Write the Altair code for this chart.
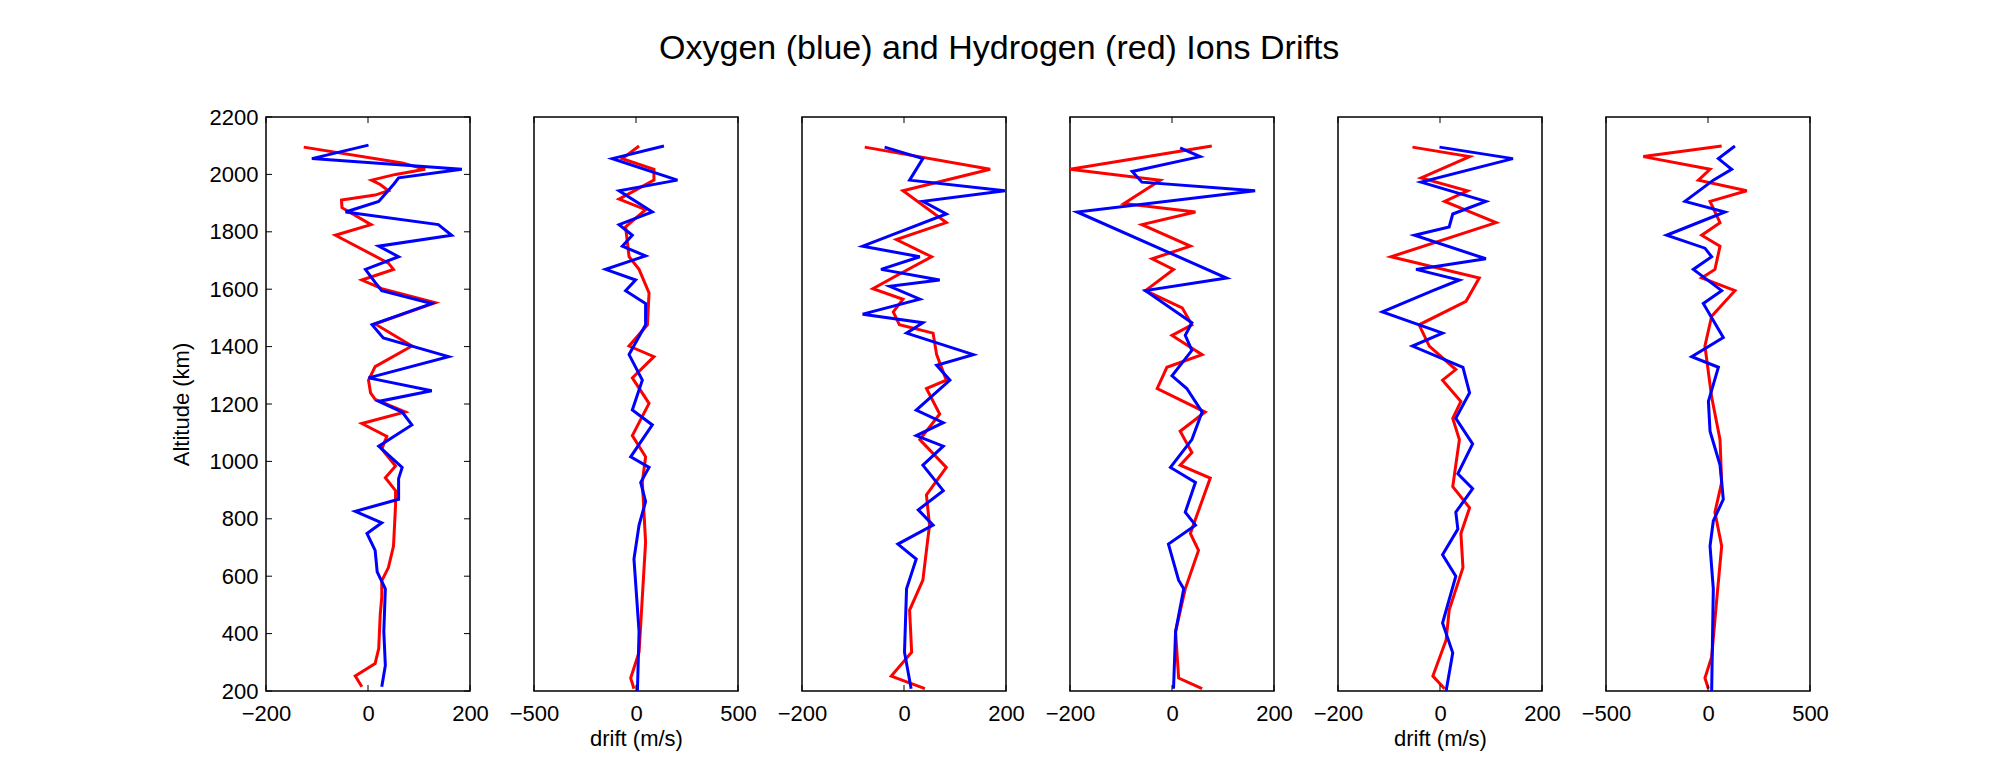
import altair as alt
import pandas as pd

FONT = "Liberation Sans"

# ---------------- data (altitude km, drift m/s) ----------------
p1_red_alt = [2095, 2040, 2018, 2000, 1980, 1965, 1943, 1928, 1911, 1884, 1825, 1788, 1691, 1669, 1632, 1602, 1553, 1479, 1402, 1330, 1283, 1239, 1216, 1172, 1132, 1087, 1043, 984, 943, 898, 846, 705, 630, 584, 527, 467, 348, 296, 252, 215]
p1_red_val = [-126, 67, 112, 54, 7, 24, 40, 14, -52, -51, 6, -64, 40, 50, -12, 27, 132, 14, 86, 14, 1, 5, 14, 73, -12, 37, 27, 54, 34, 54, 54, 50, 40, 27, 27, 24, 21, 14, -25, -12]
p1_blue_alt = [2102, 2055, 2018, 1988, 1965, 1906, 1869, 1825, 1788, 1750, 1713, 1669, 1624, 1595, 1550, 1476, 1430, 1365, 1291, 1246, 1209, 1172, 1127, 1053, 979, 940, 868, 826, 786, 749, 690, 615, 556, 407, 289, 215]
p1_blue_val = [1, -110, 184, 60, 50, 21, -44, 138, 164, 21, 60, -5, 14, 27, 125, 8, 30, 158, 1, 125, 21, 67, 86, 21, 67, 60, 60, -25, 27, -2, 14, 18, 34, 31, 34, 27]

p2_red_alt = [2099, 2055, 2018, 1980, 1914, 1877, 1817, 1713, 1669, 1587, 1476, 1402, 1365, 1291, 1202, 1090, 1016, 927, 719, 527, 335, 245, 208]
p2_red_val = [15, -67, 88, 88, -83, 47, -51, -34, 15, 64, 56, -34, 88, -18, 64, -18, 47, 31, 47, 31, 15, -26, -10]
p2_blue_alt = [2099, 2055, 1980, 1943, 1869, 1825, 1788, 1750, 1716, 1669, 1632, 1595, 1550, 1476, 1372, 1283, 1179, 1127, 1016, 979, 927, 860, 778, 660, 407, 200]
p2_blue_val = [137, -116, 203, -83, 80, -83, -18, -67, 47, -149, -2, -51, 47, 47, -34, 31, -18, 80, -26, 64, 23, 47, 15, -10, 15, 7]

p3_red_alt = [2095, 2018, 1943, 1832, 1773, 1713, 1647, 1602, 1565, 1521, 1476, 1447, 1372, 1283, 1254, 1165, 1076, 979, 883, 778, 586, 482, 335, 252, 208]
p3_red_val = [-77, 169, -2, 83, -15, 54, -15, -61, -2, -21, -9, 57, 64, 83, 44, 70, 31, 83, 44, 50, 37, 11, 15, -25, 41]
p3_blue_alt = [2095, 2055, 1980, 1943, 1906, 1862, 1750, 1713, 1669, 1632, 1610, 1565, 1513, 1483, 1447, 1372, 1335, 1283, 1179, 1135, 1090, 1053, 987, 898, 831, 778, 712, 660, 556, 335, 208]
p3_blue_val = [-38, 37, 11, 198, 37, 83, -81, 31, -45, 70, -28, 31, -81, 37, 5, 136, 64, 90, 24, 77, 24, 77, 37, 77, 28, 57, -12, 24, 5, 1, 14]

p4_red_alt = [2099, 2018, 1980, 1899, 1869, 1825, 1750, 1706, 1669, 1595, 1535, 1476, 1439, 1372, 1328, 1254, 1172, 1105, 1031, 987, 942, 749, 690, 556, 407, 245, 208]
p4_red_val = [78, -200, -23, -94, 46, -59, 36, -39, 3, -52, 20, 39, 0, 59, -10, -29, 65, 16, 39, 16, 75, 36, 52, 26, 7, 13, 59]
p4_blue_alt = [2092, 2062, 2010, 1973, 1943, 1869, 1639, 1595, 1483, 1439, 1387, 1298, 1254, 1172, 1076, 979, 927, 823, 778, 712, 586, 556, 407, 208]
p4_blue_val = [16, 55, -78, -59, 163, -186, 107, -52, 39, 26, 39, 0, 29, 59, 39, -3, 46, 26, 46, -7, 13, 23, 7, 3]

p5_red_alt = [2095, 2062, 1988, 1943, 1906, 1832, 1713, 1639, 1558, 1476, 1402, 1320, 1283, 1209, 1150, 1076, 912, 838, 749, 630, 482, 378, 252, 208]
p5_red_val = [-54, 58, -37, 54, 9, 110, -96, 77, 51, -41, -21, 31, 5, 41, 25, 38, 25, 58, 41, 45, 18, 12, -14, 9]
p5_blue_alt = [2095, 2055, 1973, 1906, 1862, 1817, 1788, 1706, 1669, 1632, 1595, 1521, 1447, 1402, 1328, 1239, 1150, 1061, 957, 905, 823, 764, 675, 600, 437, 333, 200]
p5_blue_val = [-1, 143, -37, 90, 25, 18, -50, 90, -47, 38, -14, -113, 5, -54, 45, 58, 31, 64, 35, 64, 31, 35, 5, 31, 5, 25, 12]

p6_red_alt = [2099, 2062, 2018, 1980, 1943, 1906, 1832, 1788, 1750, 1669, 1639, 1595, 1506, 1402, 1224, 1076, 927, 823, 705, 512, 319, 245, 208]
p6_red_val = [67, -317, 10, -47, 190, 10, 59, -31, 59, 34, -31, 132, 18, -15, 18, 59, 67, 34, 67, 42, 18, -15, 2]
p6_blue_alt = [2099, 2055, 2018, 1980, 1906, 1869, 1788, 1743, 1713, 1669, 1595, 1550, 1432, 1365, 1328, 1209, 1105, 987, 868, 793, 705, 556, 200]
p6_blue_val = [132, 51, 116, 26, -113, 83, -203, -15, 18, -72, 67, -23, 75, -80, 51, 2, 10, 59, 75, 26, 10, 26, 18]

x_ticks_small = [-200, 0, 200]
x_ticks_large = [-500, 0, 500]
y_ticks = [200, 400, 600, 800, 1000, 1200, 1400, 1600, 1800, 2000, 2200]
x_titles = ["", "drift (m/s)", "", "", "drift (m/s)", ""]
title_text = "Oxygen (blue) and Hydrogen (red) Ions Drifts"

panels_data = [
    (p1_red_alt, p1_red_val, p1_blue_alt, p1_blue_val, x_ticks_small),
    (p2_red_alt, p2_red_val, p2_blue_alt, p2_blue_val, x_ticks_large),
    (p3_red_alt, p3_red_val, p3_blue_alt, p3_blue_val, x_ticks_small),
    (p4_red_alt, p4_red_val, p4_blue_alt, p4_blue_val, x_ticks_small),
    (p5_red_alt, p5_red_val, p5_blue_alt, p5_blue_val, x_ticks_small),
    (p6_red_alt, p6_red_val, p6_blue_alt, p6_blue_val, x_ticks_large),
]

W, H = 204, 574
TICK = 6

y_scale = alt.Scale(domain=[200, 2200], nice=False, zero=False)


def make_panel(idx, ra, rv, ba, bv, xt):
    x_scale = alt.Scale(domain=[xt[0], xt[-1]], nice=False, zero=False)
    x_axis = alt.Axis(values=xt, ticks=False, domain=False, grid=False, format="d",
                      labelFlush=False, labelOverlap=False, labelFontSize=22,
                      labelPadding=12, labelColor="black", title=x_titles[idx] or None,
                      titleFontSize=22, titleFontWeight="normal", titleColor="black",
                      titlePadding=4, zindex=1)
    if idx == 0:
        y_axis = alt.Axis(values=y_ticks, ticks=False, domain=False, grid=False,
                          format="d", labelFontSize=22, labelPadding=8, labelColor="black",
                          labelOverlap=False, labelFlush=False,
                          title="Altitude (km)", titleFontSize=22,
                          titleFontWeight="normal", titleColor="black",
                          titlePadding=16, zindex=1)
    else:
        y_axis = None
    xe = alt.X("drift:Q", scale=x_scale, axis=x_axis)
    ye = alt.Y("alt:Q", scale=y_scale, axis=y_axis)

    red = pd.DataFrame({"alt": ra, "drift": rv})
    blue = pd.DataFrame({"alt": ba, "drift": bv})
    red_line = alt.Chart(red).mark_line(color="#ff0000", strokeWidth=3).encode(
        x=xe, y=ye, order="alt:Q")
    blue_line = alt.Chart(blue).mark_line(color="#0000ff", strokeWidth=3).encode(
        x=xe, y=ye, order="alt:Q")

    xtdf = pd.DataFrame({"drift": xt})
    top_ticks = alt.Chart(xtdf).mark_rule(color="black", strokeWidth=1).encode(
        x=xe, y=alt.value(0), y2=alt.value(TICK))
    bot_ticks = alt.Chart(xtdf).mark_rule(color="black", strokeWidth=1).encode(
        x=xe, y=alt.value(H - TICK), y2=alt.value(H))
    layers = [red_line, blue_line, top_ticks, bot_ticks]
    if idx == 0:
        ytdf = pd.DataFrame({"alt": y_ticks})
        l_ticks = alt.Chart(ytdf).mark_rule(color="black", strokeWidth=1).encode(
            y=ye, x=alt.value(0), x2=alt.value(TICK))
        r_ticks = alt.Chart(ytdf).mark_rule(color="black", strokeWidth=1).encode(
            y=ye, x=alt.value(W - TICK), x2=alt.value(W))
        layers += [l_ticks, r_ticks]
    return alt.layer(*layers).properties(width=W, height=H)


panels = [make_panel(i, *d) for i, d in enumerate(panels_data)]

chart = alt.hconcat(*panels, spacing=64, bounds="flush").properties(
    title=alt.TitleParams(title_text, fontSize=34, font=FONT, fontWeight="normal",
                          color="black", anchor="middle", offset=39),
    padding={"left": 169, "top": 32, "right": 162, "bottom": 5},
    background="white",
).configure_view(
    stroke="black", strokeWidth=1.5
).configure_axis(
    labelFont=FONT, titleFont=FONT
).configure_title(font=FONT)

chart.save("out.html", embed_options={"renderer": "svg", "actions": False})
